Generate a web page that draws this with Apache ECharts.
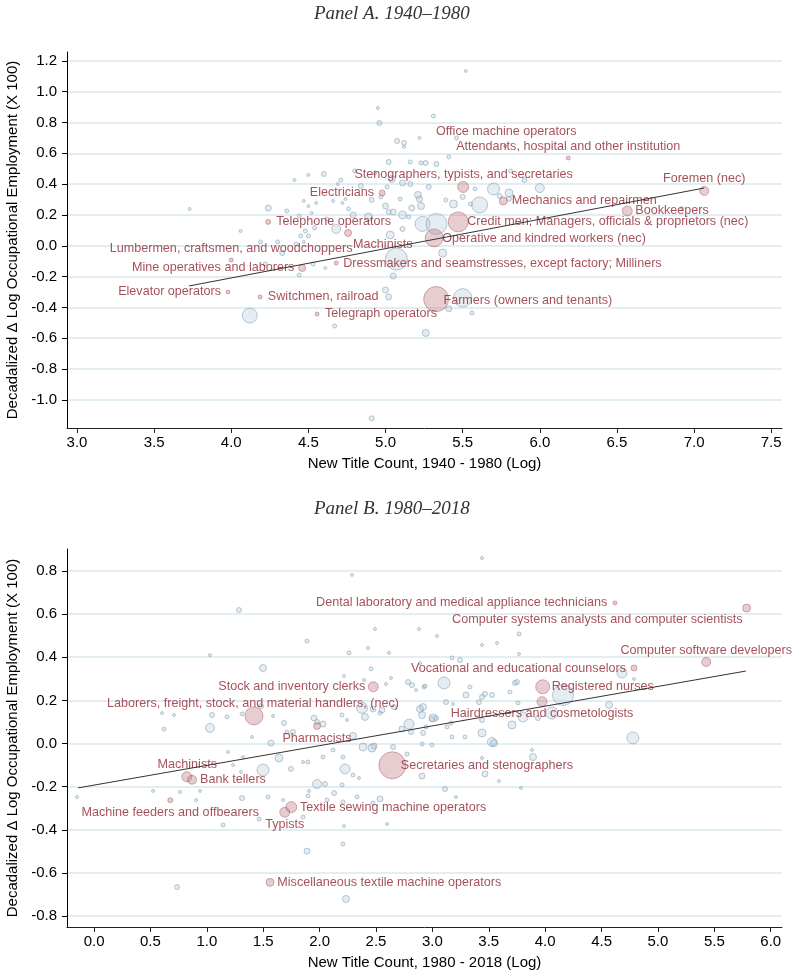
<!DOCTYPE html>
<html>
<head>
<meta charset="utf-8">
<script src="https://cdn.jsdelivr.net/npm/echarts@6/dist/echarts.min.js"></script>
<style>
  html, body { margin: 0; padding: 0; background: #fff; }
  #chart { width: 798px; height: 972px; }
</style>
</head>
<body>
<div id="chart"></div>
<script>
// Panel A: 1940-1980. Each point is [log new title count, decadalized change, employment weight]
const otherA = [
  [4.95, 0.895, 9], [4.96, 0.797, 25], [5.075, 0.68, 25], [5.12, 0.668, 25], [5.12, 0.642, 9],
  [5.22, 0.70, 9], [5.02, 0.544, 25], [5.16, 0.544, 16], [5.23, 0.538, 16], [5.33, 0.531, 25],
  [4.80, 0.486, 16], [4.93, 0.473, 16], [4.60, 0.466, 25], [4.50, 0.46, 9], [4.41, 0.427, 9],
  [4.71, 0.427, 16], [4.69, 0.401, 9], [4.84, 0.388, 25], [5.04, 0.434, 49], [5.11, 0.408, 36],
  [5.16, 0.401, 25], [5.01, 0.382, 16], [5.28, 0.382, 25], [5.21, 0.33, 49], [5.22, 0.304, 36],
  [5.095, 0.304, 16], [4.91, 0.297, 25], [4.97, 0.317, 16], [4.47, 0.291, 9], [4.55, 0.278, 9],
  [4.50, 0.258, 9], [4.66, 0.291, 9], [4.72, 0.278, 9], [4.74, 0.304, 9], [5.00, 0.258, 36],
  [5.02, 0.219, 25], [5.17, 0.245, 36], [5.23, 0.258, 49], [4.76, 0.239, 16], [3.73, 0.239, 9],
  [4.24, 0.245, 36], [4.36, 0.226, 16], [4.44, 0.194, 16], [4.52, 0.213, 9], [4.62, 0.174, 16],
  [4.79, 0.20, 36], [4.89, 0.187, 64], [5.05, 0.219, 36], [5.11, 0.20, 64], [5.24, 0.142, 225],
  [5.33, 0.142, 440], [5.15, 0.187, 16], [5.11, 0.109, 25], [4.68, 0.109, 81], [4.54, 0.116, 16],
  [4.48, 0.096, 16], [4.50, 0.064, 16], [5.03, 0.07, 64], [4.06, 0.096, 9], [4.19, 0.025, 16],
  [4.30, 0.025, 16], [4.42, 0.012, 16], [4.47, 0.025, 9], [4.45, 0.064, 16], [4.33, -0.047, 25],
  [4.22, -0.118, 16], [4.44, -0.19, 16], [4.61, -0.144, 9], [4.53, -0.118, 16], [5.07, -0.086, 484],
  [5.05, -0.196, 36], [5.00, -0.287, 36], [5.02, -0.332, 36], [4.12, -0.453, 225], [4.67, -0.521, 16],
  [5.26, -0.566, 49], [4.91, -1.12, 25], [5.37, -0.047, 64], [5.50, -0.338, 340], [5.41, -0.409, 36],
  [5.56, -0.436, 16], [5.52, 1.135, 9], [5.31, 0.843, 16], [5.46, 0.70, 16], [5.41, 0.577, 16],
  [5.26, 0.538, 25], [5.81, 0.486, 16], [5.90, 0.427, 25], [5.70, 0.369, 144], [5.80, 0.343, 64],
  [5.80, 0.304, 25], [5.74, 0.323, 25], [6.00, 0.375, 81], [5.58, 0.369, 16], [5.50, 0.317, 25],
  [5.61, 0.265, 256], [5.44, 0.271, 64], [5.39, 0.297, 16], [5.55, 0.271, 16], [6.92, 0.245, 9]
];
const namesA = [
  'Office machine operators', 'Attendants, hospital and other institution',
  'Stenographers, typists, and secretaries', 'Electricians', 'Mechanics and repairmen',
  'Foremen (nec)', 'Bookkeepers', 'Credit men; Managers, officials & proprietors (nec)',
  'Telephone operators', 'Machinists', 'Operative and kindred workers (nec)',
  'Lumbermen, craftsmen, and woodchoppers',
  'Dressmakers and seamstresses, except factory; Milliners', 'Mine operatives and laborers',
  'Elevator operators', 'Switchmen, railroad', 'Farmers (owners and tenants)', 'Telegraph operators'
];
const pointsA = [
  [5.776, 0.648, 9], [6.184, 0.570, 16], [5.503, 0.382, 121], [4.978, 0.343, 36], [5.763, 0.291, 64],
  [7.066, 0.356, 81], [6.567, 0.226, 100], [5.471, 0.155, 400], [4.239, 0.155, 25], [4.757, 0.083, 49],
  [5.315, 0.051, 324], [3.999, -0.092, 16], [4.680, -0.112, 16], [4.459, -0.144, 49],
  [3.979, -0.300, 16], [4.187, -0.332, 16], [5.328, -0.346, 625], [4.556, -0.443, 16]
];
const fitA = [[3.726, -0.261], [7.066, 0.375]];
const xTicksA = [3.0, 3.5, 4.0, 4.5, 5.0, 5.5, 6.0, 6.5, 7.0, 7.5];
const yTicksA = [-1.0, -0.8, -0.6, -0.4, -0.2, 0.0, 0.2, 0.4, 0.6, 0.8, 1.0, 1.2];

// Panel B: 1980-2018
const otherB = [
  [2.287, 0.782, 9], [1.285, 0.619, 25], [2.491, 0.531, 9], [2.881, 0.531, 9], [1.888, 0.475, 16],
  [2.429, 0.443, 9], [2.261, 0.420, 16], [2.615, 0.420, 9], [1.028, 0.410, 9], [2.890, 0.373, 9],
  [1.498, 0.350, 49], [2.456, 0.346, 16], [2.216, 0.313, 9], [2.633, 0.304, 9], [2.394, 0.295, 9],
  [2.784, 0.285, 25], [2.819, 0.271, 25], [2.926, 0.262, 16], [2.589, 0.276, 9], [2.855, 0.248, 9],
  [0.603, 0.141, 9], [0.709, 0.132, 9], [1.046, 0.132, 25], [1.179, 0.123, 16], [1.312, 0.137, 16],
  [1.480, 0.174, 25], [1.028, 0.072, 81], [0.621, 0.067, 16], [1.401, 0.030, 9], [1.587, 0.128, 9],
  [1.684, 0.095, 25], [1.764, 0.053, 25], [1.711, 0.053, 16], [1.950, 0.118, 36], [2.030, 0.090, 36],
  [1.977, 0.100, 25], [2.296, 0.035, 49], [2.402, 0.123, 49], [2.376, 0.165, 121], [2.473, 0.160, 36],
  [2.553, 0.155, 36], [2.660, 0.169, 25], [2.793, 0.090, 100], [2.730, 0.067, 36], [2.890, 0.160, 49],
  [2.917, 0.049, 25], [3.103, 0.281, 144], [3.298, 0.225, 36], [3.440, 0.216, 25], [3.466, 0.230, 25],
  [3.413, 0.192, 25], [3.528, 0.225, 25], [3.121, 0.192, 25], [3.732, 0.281, 25], [3.759, 0.188, 16],
  [4.158, 0.225, 441], [2.535, 0.141, 16], [2.996, 0.114, 25], [3.032, 0.118, 25], [2.810, 0.053, 25],
  [2.943, 0.077, 16], [3.129, 0.077, 16], [3.165, 0.095, 16], [3.440, 0.049, 64], [3.528, 0.007, 81],
  [3.546, 0.002, 49], [3.706, 0.086, 64], [3.803, 0.123, 100], [4.060, 0.141, 144], [1.569, 0.002, 36],
  [1.640, -0.067, 64], [1.498, -0.123, 144], [1.853, -0.086, 9], [2.030, -0.063, 16], [2.119, -0.030, 16],
  [2.207, -0.063, 16], [2.225, -0.118, 100], [2.296, -0.146, 16], [2.385, -0.016, 64], [2.465, -0.021, 64],
  [2.482, -0.012, 36], [1.977, -0.188, 81], [2.048, -0.188, 25], [2.199, -0.192, 16], [1.897, -0.243, 16],
  [2.066, -0.262, 16], [2.207, -0.271, 16], [2.535, -0.257, 36], [2.332, -0.248, 16], [1.543, -0.248, 16],
  [1.312, -0.253, 25], [1.144, -0.378, 16], [2.598, -0.373, 9], [2.908, -0.151, 36], [3.112, -0.211, 25],
  [3.209, -0.248, 9], [3.466, -0.141, 36], [3.590, -0.174, 9], [3.892, -0.063, 49], [3.883, -0.030, 9],
  [3.440, -0.067, 9], [4.778, 0.026, 144], [3.174, 0.030, 16], [3.289, 0.030, 16], [2.996, -0.007, 16],
  [2.908, -0.002, 16], [3.785, -0.206, 9], [3.440, 0.860, 9], [3.768, 0.508, 16], [3.041, 0.499, 9],
  [3.440, 0.457, 9], [3.573, 0.466, 9], [3.768, 0.415, 9], [3.245, 0.387, 25], [3.174, 0.397, 16],
  [4.681, 0.327, 100], [4.787, 0.299, 9], [2.934, 0.267, 16], [3.333, 0.262, 16], [3.750, 0.285, 25],
  [3.688, 0.239, 16], [3.183, 0.183, 9], [4.566, 0.179, 49], [2.917, 0.169, 49], [3.005, 0.118, 64],
  [2.908, 0.132, 49], [3.936, 0.118, 25], [3.440, 0.109, 25], [-0.151, -0.248, 9], [0.523, -0.220, 9],
  [0.762, -0.225, 9], [0.904, -0.262, 9], [0.940, -0.220, 9], [0.736, -0.666, 25], [2.234, -0.721, 49],
  [1.888, -0.499, 36], [2.207, -0.466, 16], [2.128, -0.230, 25], [1.906, -0.220, 9], [1.853, -0.341, 16],
  [1.463, -0.350, 16], [1.676, -0.262, 9], [2.216, -0.383, 9], [2.473, -0.276, 16], [1.188, -0.039, 9],
  [1.321, -0.063, 9], [1.303, -0.132, 9], [1.232, -0.100, 9], [1.746, -0.118, 25], [1.897, -0.086, 16],
  [2.349, -0.160, 9], [2.775, -0.049, 16], [2.651, -0.016, 25], [2.199, 0.132, 16], [2.243, 0.109, 9]
];
const namesB = [
  'Dental laboratory and medical appliance technicians',
  'Computer systems analysts and computer scientists', 'Computer software developers',
  'Vocational and educational counselors', 'Registered nurses', 'Hairdressers and cosmetologists',
  'Stock and inventory clerks', 'Laborers, freight, stock, and material handlers, (nec)',
  'Pharmacists', 'Secretaries and stenographers', 'Machinists', 'Bank tellers',
  'Machine feeders and offbearers', 'Textile sewing machine operators', 'Typists',
  'Miscellaneous textile machine operators'
];
const pointsB = [
  [4.619, 0.652, 16], [5.786, 0.628, 64], [5.428, 0.378, 81], [4.787, 0.350, 36], [3.978, 0.263, 196],
  [3.972, 0.194, 100], [2.476, 0.263, 100], [1.418, 0.128, 324], [1.977, 0.081, 49], [2.645, -0.101, 729],
  [0.822, -0.154, 100], [0.869, -0.168, 81], [0.676, -0.263, 25], [1.749, -0.295, 121],
  [1.691, -0.319, 100], [1.560, -0.644, 64]
];
const fitB = [[-0.142, -0.206], [5.78, 0.336]];
const xTicksB = [0.0, 0.5, 1.0, 1.5, 2.0, 2.5, 3.0, 3.5, 4.0, 4.5, 5.0, 5.5, 6.0];
const yTicksB = [-0.8, -0.6, -0.4, -0.2, 0.0, 0.2, 0.4, 0.6, 0.8];

// where each label sits relative to its marker: [align, dx, dy]
const tagA = {
  'Office machine operators': ['center', 1, -14],
  'Attendants, hospital and other institution': ['center', 0, -11.5],
  'Stenographers, typists, and secretaries': ['center', 0.5, -12],
  'Electricians': ['right', -8, 0],
  'Mechanics and repairmen': ['left', 8.5, 0],
  'Foremen (nec)': ['center', 0, -12],
  'Bookkeepers': ['left', 8, 0],
  'Credit men; Managers, officials & proprietors (nec)': ['left', 9, 0],
  'Telephone operators': ['left', 8, 0],
  'Machinists': ['left', 5, 11.5],
  'Operative and kindred workers (nec)': ['left', 8, 0.5],
  'Lumbermen, craftsmen, and woodchoppers': ['center', 0, -11.3],
  'Dressmakers and seamstresses, except factory; Milliners': ['left', 7, 0],
  'Mine operatives and laborers': ['right', -7.7, 0],
  'Elevator operators': ['right', -7, 0],
  'Switchmen, railroad': ['left', 7.7, 0],
  'Farmers (owners and tenants)': ['left', 7.3, 1],
  'Telegraph operators': ['left', 8, 0]
};
const tagB = {
  'Dental laboratory and medical appliance technicians': ['right', -7.7, 0],
  'Computer systems analysts and computer scientists': ['right', -4, 11.3],
  'Computer software developers': ['center', 0, -11.7],
  'Vocational and educational counselors': ['right', -8, 0],
  'Registered nurses': ['left', 9, 0],
  'Hairdressers and cosmetologists': ['center', 0, 11.6],
  'Stock and inventory clerks': ['right', -8, 0],
  'Laborers, freight, stock, and material handlers, (nec)': ['center', -1, -12],
  'Pharmacists': ['center', 0, 12.3],
  'Secretaries and stenographers': ['left', 8.4, 0.5],
  'Machinists': ['center', 0.5, -11.7],
  'Bank tellers': ['left', 8, 0],
  'Machine feeders and offbearers': ['center', 0, 12],
  'Textile sewing machine operators': ['left', 8.7, 0],
  'Typists': ['center', 0, 12.7],
  'Miscellaneous textile machine operators': ['left', 7.3, 0]
};

const SANS = 'Liberation Sans, Arial, sans-serif';
const LABEL_RED = '#8e2631';

function labelled(points, names, tags) {
  return points.map((p, i) => {
    const t = tags[names[i]];
    return {
      value: p,
      name: names[i],
      label: {
        show: true,
        position: 'inside',
        align: t[0],
        verticalAlign: 'middle',
        offset: [t[1], t[2]],
        formatter: '{b}',
        color: LABEL_RED,
        fontSize: 12.6,
        fontFamily: SANS
      }
    };
  });
}

function xAxis(idx, min, max, ticks, title) {
  return {
    type: 'value', gridIndex: idx, min: min, max: max,
    axisLine: { show: true, onZero: false, lineStyle: { color: '#222', width: 1 } },
    axisTick: { show: true, length: 5, customValues: ticks, lineStyle: { color: '#222' } },
    axisLabel: { customValues: ticks, formatter: v => v.toFixed(1), color: '#000', fontSize: 15, fontFamily: SANS, margin: 7 },
    splitLine: { show: false },
    name: title, nameLocation: 'middle', nameGap: 28,
    nameTextStyle: { color: '#000', fontSize: 15, fontFamily: SANS }
  };
}

function yAxis(idx, min, max, ticks) {
  return {
    type: 'value', gridIndex: idx, min: min, max: max,
    axisLine: { show: true, onZero: false, lineStyle: { color: '#000', width: 1 } },
    axisTick: { show: true, length: 5, customValues: ticks, lineStyle: { color: '#000' } },
    axisLabel: { customValues: ticks, formatter: v => v.toFixed(1), color: '#000', fontSize: 15, fontFamily: SANS, margin: 10 },
    splitLine: { show: true, lineStyle: { color: '#e3eef2', width: 2 } },
    name: 'Decadalized \u0394 Log Occupational Employment (X 100)',
    nameLocation: 'middle', nameGap: 45,
    nameTextStyle: { color: '#000', fontSize: 15, fontFamily: SANS }
  };
}

const blueStyle = { color: 'rgba(170,194,210,0.36)', borderColor: 'rgba(128,158,180,0.7)', borderWidth: 1 };
const redStyle = { color: 'rgba(185,105,116,0.42)', borderColor: 'rgba(165,88,98,0.6)', borderWidth: 1 };
const bubble = v => Math.sqrt(v[2]);

function panelSeries(idx, other, points, names, tags, fit) {
  return [
    { type: 'scatter', xAxisIndex: idx, yAxisIndex: idx, data: other, symbolSize: bubble, itemStyle: blueStyle, z: 2 },
    { type: 'scatter', xAxisIndex: idx, yAxisIndex: idx, data: labelled(points, names, tags), symbolSize: bubble, itemStyle: redStyle, z: 3 },
    { type: 'line', xAxisIndex: idx, yAxisIndex: idx, data: fit, showSymbol: false, symbol: 'none',
      lineStyle: { color: '#333', width: 1 }, z: 4 }
  ];
}

const chart = echarts.init(document.getElementById('chart'), null, { renderer: 'canvas' });
chart.setOption({
  animation: false,
  backgroundColor: '#fff',
  grid: [
    { left: 67, top: 52, width: 715, height: 376, containLabel: false, outerBoundsMode: 'none' },
    { left: 67, top: 549, width: 715, height: 378, containLabel: false, outerBoundsMode: 'none' }
  ],
  graphic: [
    { type: 'text', left: 314, top: 4, style: { text: 'Panel A. 1940\u20131980', fill: '#333', font: 'italic 19px "Liberation Serif", serif' } },
    { type: 'text', left: 314, top: 499, style: { text: 'Panel B. 1980\u20132018', fill: '#333', font: 'italic 19px "Liberation Serif", serif' } }
  ],
  xAxis: [
    xAxis(0, 2.935, 7.57, xTicksA, 'New Title Count, 1940 - 1980 (Log)'),
    xAxis(1, -0.24, 6.1, xTicksB, 'New Title Count, 1980 - 2018 (Log)')
  ],
  yAxis: [
    yAxis(0, -1.183, 1.258, yTicksA),
    yAxis(1, -0.851, 0.902, yTicksB)
  ],
  series: [
    ...panelSeries(0, otherA, pointsA, namesA, tagA, fitA),
    ...panelSeries(1, otherB, pointsB, namesB, tagB, fitB)
  ]
});
</script>
</body>
</html>
